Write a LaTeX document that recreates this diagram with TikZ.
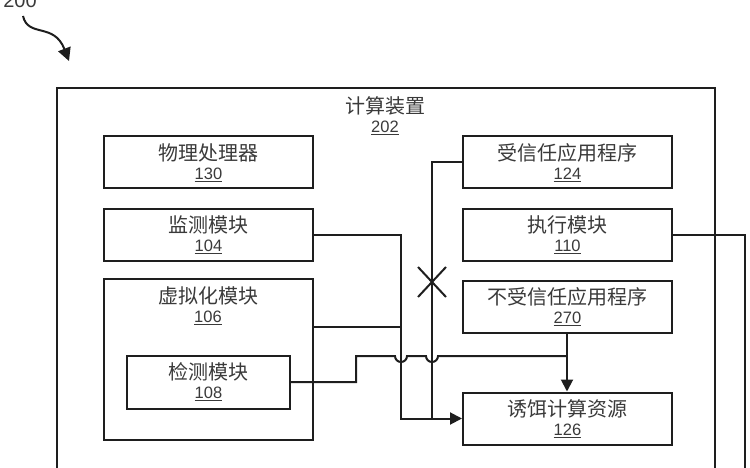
\documentclass[tikz,border=0pt]{standalone}
\usepackage{fontspec}
\setmainfont{Liberation Sans}
\newfontfamily\cjk{Noto Sans CJK SC}
\usetikzlibrary{arrows.meta}
\definecolor{ink}{HTML}{1E1E1E}
\definecolor{txt}{HTML}{3A3A3A}
\newcommand{\lbl}[2]{{\cjk\fontsize{20}{22}\selectfont #1}\\[5pt]{\fontsize{16.5}{20}\selectfont\underline{#2}}}
\tikzset{
  x=1pt,y=-1pt,
  box/.style={draw=ink,line width=2pt,fill=white,minimum width=209pt,minimum height=52pt,align=center,inner sep=0pt,text=txt,anchor=north west},
  wire/.style={draw=ink,line width=2pt,line join=miter},
  tip/.style={-{Triangle[length=12pt,width=12pt]}}
}
\begin{document}
\begin{tikzpicture}
\useasboundingbox (0,0) rectangle (750,468);
\clip (0,0) rectangle (750,468);
\draw[wire] (56.5,480) -- (56.5,88) -- (715,88) -- (715,480);
\node[text=txt,align=center,inner sep=0pt] (dev) at (385,116) {\lbl{计算装置}{202}};
\node[box] (phys) at (103,135.5) {\lbl{物理处理器}{130}};
\node[box] (mon) at (103,207.5) {\lbl{监测模块}{104}};
\node[box,minimum height=161pt] (virt) at (103,277.5) {};
\node[text=txt,align=center,inner sep=0pt] (virtl) at (208,306) {\lbl{虚拟化模块}{106}};
\node[box,minimum width=163pt,minimum height=53pt] (det) at (126,354.5) {\lbl{检测模块}{108}};
\node[box] (tru) at (462,135.5) {\lbl{受信任应用程序}{124}};
\node[box] (exe) at (462,207.5) {\lbl{执行模块}{110}};
\node[box] (unt) at (462,279.5) {\lbl{不受信任应用程序}{270}};
\node[box] (dec) at (462,391.5) {\lbl{诱饵计算资源}{126}};
\coordinate (xm) at (401,0);
\coordinate (xt) at (432,0);
\coordinate (jn) at (567,356);
\coordinate (xc) at (432,282);
\draw[wire,tip] (mon.east) -- (mon.east -| xm) -- (dec.west -| xm) -- (dec.west);
\draw[wire] (virt.east |- 0,327) -- (xm |- 0,327);
\draw[wire] (tru.west) -- (tru.west -| xt) -- (dec.west -| xt);
\draw[wire] (xc) ++(-14,-15) -- ++(28,30);
\draw[wire] (xc) ++(14,-15) -- ++(-28,30);
\draw[wire] (det.east) -- (det.east -| 356,0) -- (356,356) -- (395,356) arc[start angle=180,delta angle=-180,radius=6] -- (426,356) arc[start angle=180,delta angle=-180,radius=6] -- (jn);
\draw[wire,tip] (unt.south -| jn) -- (dec.north -| jn);
\draw[wire] (exe.east) -- (exe.east -| 745,0) -- (745,480);
\node[inner sep=0pt,text=txt,font=\fontsize{20}{22}\selectfont] (n200) at (20,0.5) {200};
\coordinate (a1) at (23,16);
\coordinate (a2) at (69,61);
\draw[wire,-{Triangle[length=13pt,width=13pt]}] (a1) .. controls (28,38) and (54,22) .. (a2);
\end{tikzpicture}
\end{document}
